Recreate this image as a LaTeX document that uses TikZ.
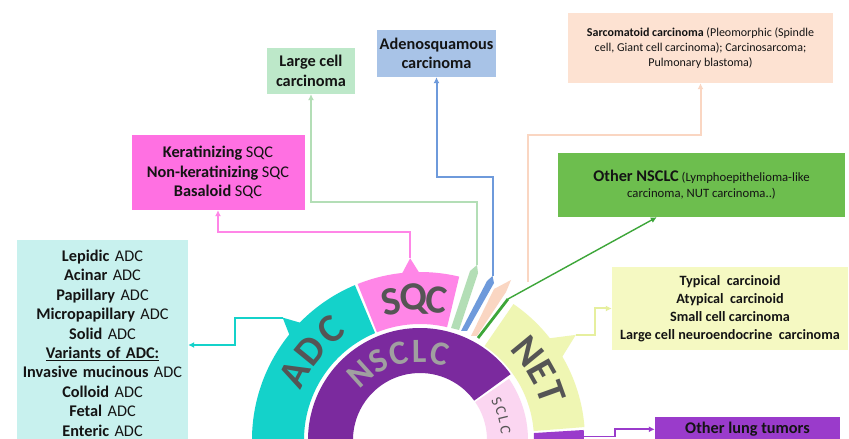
\documentclass[tikz,border=0pt]{standalone}
\usepackage{fontspec}
\setmainfont{Carlito}
\usetikzlibrary{arrows.meta,calc}
\definecolor{adcC}{HTML}{14D2CA}
\definecolor{adcBox}{HTML}{C8F1EE}
\definecolor{sqcC}{HTML}{FF86E7}
\definecolor{keratBox}{HTML}{FF70E2}
\definecolor{nsclcC}{HTML}{7B2A9E}
\definecolor{sclcC}{HTML}{FBD6F1}
\definecolor{netC}{HTML}{EFF6B3}
\definecolor{netBox}{HTML}{F5F9C2}
\definecolor{otherC}{HTML}{9A3BCB}
\definecolor{lcBox}{HTML}{BDE8C9}
\definecolor{lcC}{HTML}{B3DEB6}
\definecolor{asBox}{HTML}{A8C3E7}
\definecolor{asC}{HTML}{6E9ADB}
\definecolor{sarcBox}{HTML}{FDE2D2}
\definecolor{sarcC}{HTML}{FAD6C2}
\definecolor{onBox}{HTML}{6DBE4E}
\definecolor{onC}{HTML}{3DA639}
\definecolor{netL}{HTML}{E6EF9E}
\definecolor{ringTxt}{HTML}{555555}
\definecolor{nsTxt}{HTML}{A0A0A0}
\definecolor{txtC}{HTML}{141414}
\newcommand\ringsector[5]{%
  \fill[#1] (#2:#4) -- (#2:#5) arc[start angle=#2,end angle=#3,radius=#5] -- (#3:#4) arc[start angle=#3,end angle=#2,radius=#4] -- cycle;}
\begin{document}
\begin{tikzpicture}[x=1pt,y=1pt,
  box/.style={inner sep=0pt, align=center, text=txtC, font=\fontsize{16.3}{19.4}\selectfont},
  lnk/.style={line width=2pt, -{Latex[length=6pt,width=6pt]}},
  ringL/.style={font=\fontsize{40}{40}\selectfont\bfseries, text=ringTxt, inner sep=0pt},
  nsL/.style={font=\fontsize{34}{34}\selectfont\bfseries, text=nsTxt, inner sep=0pt},
  sclcL/.style={font=\fontsize{15}{15}\selectfont, text=ringTxt, inner sep=0pt}]
\useasboundingbox (0,0) rectangle (849,439);
\clip (0,0) rectangle (849,439);
\fill[white] (0,0) rectangle (849,439);

% ---------- boxes ----------
\node[box, fill=adcBox, anchor=north, minimum width=171pt, minimum height=206pt, text width=171pt, inner ysep=8pt] (adcbox) at (102.5,199)
 {\textbf{Lepidic} ADC\\ \textbf{Acinar} ADC\\ \textbf{Papillary} ADC\\ \textbf{Micropapillary} ADC\\ \textbf{Solid} ADC\\
  \underline{\textbf{Variants of ADC:}}\\ \textbf{Invasive mucinous} ADC\\ \textbf{Colloid} ADC\\ \textbf{Fetal} ADC\\ \textbf{Enteric} ADC};
\node[box, fill=keratBox, minimum width=173pt, minimum height=75pt] (kerat) at (218,266.5)
 {\textbf{Keratinizing} SQC\\ \textbf{Non-keratinizing} SQC\\ \textbf{Basaloid} SQC};
\node[box, fill=lcBox, minimum width=88pt, minimum height=46pt] (lc) at (311,368)
 {\textbf{Large cell}\\ \textbf{carcinoma}};
\node[box, fill=asBox, minimum width=119pt, minimum height=47pt] (adeno) at (436.5,385.5)
 {\textbf{Adenosquamous}\\ \textbf{carcinoma}};
\node[box, fill=sarcBox, minimum width=265pt, minimum height=70pt, font=\fontsize{12}{15}\selectfont] (sarc) at (700.5,391)
 {\textbf{Sarcomatoid carcinoma} (Pleomorphic (Spindle\\ cell, Giant cell carcinoma); Carcinosarcoma;\\ Pulmonary blastoma)};
\node[box, fill=onBox, minimum width=287pt, minimum height=64pt, font=\fontsize{12.7}{16}\selectfont] (onsclc) at (701.5,254)
 {{\fontsize{16.3}{16}\selectfont\bfseries Other NSCLC} (Lymphoepithelioma-like\\ carcinoma, NUT carcinoma..)};
\node[box, fill=netBox, minimum width=236pt, minimum height=83pt, font=\fontsize{14.2}{18}\selectfont\bfseries] (netbox) at (730,130.5)
 {Typical\ \ carcinoid\\ Atypical\ \ carcinoid\\ Small cell carcinoma\\ Large cell neuroendocrine\ \ carcinoma};
\node[box, fill=otherC, anchor=north, minimum width=185pt, inner ysep=5pt, font=\fontsize{16.3}{19.4}\selectfont\bfseries] (olt) at (747.5,22)
 {Other lung tumors};

% ---------- ring ----------
\begin{scope}[shift={(420,-1)}]
\ringsector{adcC}{112.8}{190}{116}{168}
\ringsector{sqcC}{76.5}{111.8}{116}{168}
\ringsector{netC}{4.5}{55.5}{114}{165}
\ringsector{otherC}{-15}{3.5}{114}{164}
\ringsector{nsclcC}{36}{190}{67}{112}
\ringsector{sclcC}{-15}{34.5}{67}{108}
% tabs
\fill[adcC] (135.3:166) -- (138.3:184) -- (141.5:166) -- cycle;
\fill[sqcC] (90:166) -- (93.1:182) -- (96.5:166) -- cycle;
\fill[netC] (30:163) -- (34:188) -- (38.5:163) -- cycle;
\coordinate (tADC) at (138.3:184);
\coordinate (tSQC) at (93.1:182);
\coordinate (tNET) at (34:188);
\coordinate (pOL) at (1.2:164);
% ring letters
\foreach \l/\a [count=\i] in {A/152.4,D/140.8,C/128.9} {
  \node[ringL, rotate=\a-90] (adcL\i) at (\a:142) {\l};}
\foreach \l/\a [count=\i] in {S/102,Q/92.6,C/83.2} {
  \node[ringL, rotate=\a-90] (sqcL\i) at (\a:141) {\l};}
\foreach \l/\a [count=\i] in {N/39.4,E/29.4,T/19.8} {
  \node[ringL, rotate=\a-90] (netL\i) at (\a:139) {\l};}
\foreach \l/\a [count=\i] in {N/132,S/118,C/104,L/90.5,C/77} {
  \node[nsL, rotate=\a-90] (nsL\i) at (\a:89) {\l};}
\foreach \l/\a [count=\i] in {S/27,C/20.3,L/13.6,C/6.9} {
  \node[sclcL, rotate=\a-90] (scL\i) at (\a:86) {\l};}
\end{scope}

% ---------- thin wedges ----------
\fill[lcC] (451,111) -- (459,109) -- (478,166) -- (477,174) -- (470,168) -- cycle;
\coordinate (tLC) at (477,174);
\fill[asC] (461,108) -- (467,108) -- (494,156) -- (492.5,163) -- (487,158) -- cycle;
\coordinate (tAS) at (492.5,163);
\fill[sarcC] (471,103) -- (477,103) -- (506,147) -- (511,159) -- (494,150) -- cycle;
\coordinate (pS) at (528,157);
\coordinate (gA) at (478,101);
\coordinate (gB) at (508,140);

% ---------- connectors ----------
\coordinate (adcJ) at (235,94);
\draw[lnk, adcC] (tADC) -| (adcJ) -- (adcbox.east |- adcJ);
\draw[lnk, sqcC] (tSQC) -- ++(0,26.3) -| (kerat.south);
\draw[lnk, lcC] (tLC) -- ++(0,63) -| (lc.south);
\draw[lnk, asC] (tAS) -- ++(0,99) -| (adeno.south);
\draw[lnk, sarcC] (pS) -- ++(0,147) -| (sarc.south);
\draw[onC, line width=2.8pt] (gA) -- (gB);
\draw[lnk, onC, line width=1.4pt] (gB) -- ($(onsclc.south west)+(99,0)$);
\draw[lnk, netL] (tNET) -- ++(19,0) |- (netbox.west);
\draw[lnk, otherC, line width=1.6pt] (pOL) -- ++(31,0) |- (olt.west);
\end{tikzpicture}
\end{document}
